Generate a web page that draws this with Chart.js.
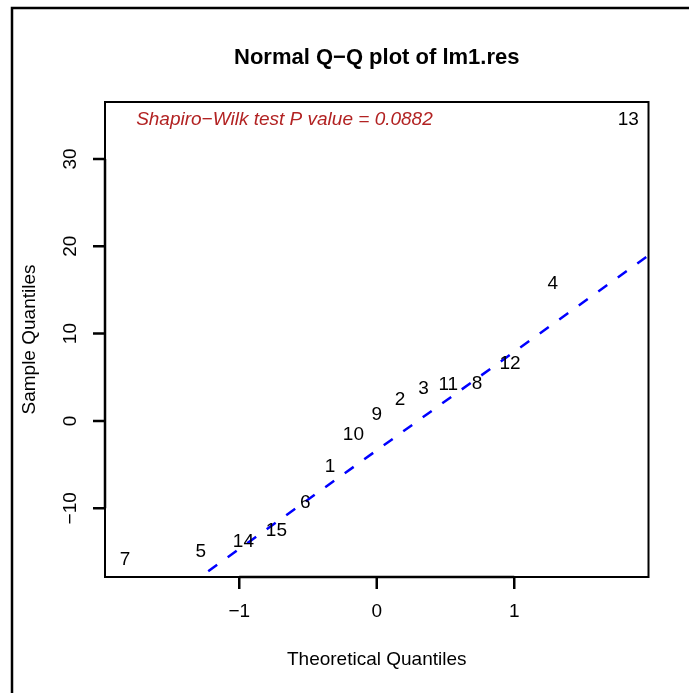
<!DOCTYPE html>
<html>
<head>
<meta charset="utf-8">
<script src="https://cdn.jsdelivr.net/npm/chart.js@4"></script>
<style>
  html, body { margin: 0; padding: 0; background: #fff; }
  #wrap { width: 689px; height: 693px; }
</style>
</head>
<body>
<div id="wrap"><canvas id="qqChart" width="689" height="693"></canvas></div>
<script>
// observation numbers, in sorted order of the residuals
const pointLabels = ['7', '5', '14', '15', '6', '1', '10', '9', '2', '3', '11', '8', '12', '4', '13'];
// theoretical normal quantiles (x) and sorted residuals (y)
const theoreticalQ = [-1.83, -1.28, -0.97, -0.73, -0.52, -0.34, -0.17, 0, 0.17, 0.34, 0.52, 0.73, 0.97, 1.28, 1.83];
const sampleQ = [-15.85, -15.0, -13.8, -12.6, -9.35, -5.2, -1.55, 0.75, 2.45, 3.7, 4.2, 4.3, 6.6, 15.65, 34.5];
const xTicks = [-1, 0, 1];
const yTicks = [-10, 0, 10, 20, 30];
const pValueText = 'Shapiro\u2212Wilk test P value = 0.0882';

// R-style axis limits: data range plus 4%
function rRange(v) {
  const lo = Math.min(...v), hi = Math.max(...v), pad = (hi - lo) * 0.04;
  return [lo - pad, hi + pad];
}
const xLim = rRange(theoreticalQ);
const yLim = rRange(sampleQ);

// qqline: through the 1st and 3rd quartiles
function quant(sorted, p) {
  const h = (sorted.length - 1) * p, lo = Math.floor(h);
  return sorted[lo] + (h - lo) * (sorted[lo + 1] - sorted[lo]);
}
const q1 = quant(sampleQ, 0.25), q3 = quant(sampleQ, 0.75);
const slope = (q3 - q1) / (2 * 0.6744898);
const intercept = q1 + 0.6744898 * slope;

const FONT = '"Liberation Sans", Arial, Helvetica, sans-serif';
const minus = s => String(s).replace('-', '\u2212');

const rDecor = {
  id: 'rDecor',
  afterDraw(chart) {
    const c = chart.ctx, a = chart.chartArea;
    const xs = chart.scales.x, ys = chart.scales.y;
    c.save();

    // outer figure frame
    c.strokeStyle = '#000';
    c.lineWidth = 2.5;
    c.strokeRect(12, 8, 700, 700);

    // plot box
    c.lineWidth = 2;
    c.strokeRect(a.left, a.top, a.right - a.left, a.bottom - a.top);

    // point labels
    c.fillStyle = '#000';
    c.font = '19px ' + FONT;
    c.textAlign = 'center';
    c.textBaseline = 'middle';
    chart.getDatasetMeta(0).data.forEach((el, i) => {
      c.fillText(pointLabels[i], el.x, el.y);
    });

    // x axis
    c.lineWidth = 2.5;
    c.beginPath();
    c.moveTo(xs.getPixelForValue(xTicks[0]), a.bottom);
    c.lineTo(xs.getPixelForValue(xTicks[xTicks.length - 1]), a.bottom);
    xTicks.forEach(t => {
      const px = xs.getPixelForValue(t);
      c.moveTo(px, a.bottom);
      c.lineTo(px, a.bottom + 12);
    });
    c.stroke();
    xTicks.forEach(t => c.fillText(minus(t), xs.getPixelForValue(t), a.bottom + 35));

    // y axis
    c.beginPath();
    c.moveTo(a.left, ys.getPixelForValue(yTicks[0]));
    c.lineTo(a.left, ys.getPixelForValue(yTicks[yTicks.length - 1]));
    yTicks.forEach(t => {
      const py = ys.getPixelForValue(t);
      c.moveTo(a.left, py);
      c.lineTo(a.left - 12, py);
    });
    c.stroke();
    yTicks.forEach(t => {
      c.save();
      c.translate(a.left - 34, ys.getPixelForValue(t));
      c.rotate(-Math.PI / 2);
      c.fillText(minus(t), 0, 0);
      c.restore();
    });

    // axis titles
    const cx = (a.left + a.right) / 2, cy = (a.top + a.bottom) / 2;
    c.fillText('Theoretical Quantiles', cx, 660);
    c.save();
    c.translate(30, cy);
    c.rotate(-Math.PI / 2);
    c.fillText('Sample Quantiles', 0, 0);
    c.restore();

    // main title
    c.font = 'bold 22px ' + FONT;
    c.fillText('Normal Q\u2212Q plot of lm1.res', cx, 58);

    // test annotation
    c.font = 'italic 19px ' + FONT;
    c.fillStyle = '#B22222';
    c.textAlign = 'left';
    c.fillText(pValueText, xs.getPixelForValue(-1.75), ys.getPixelForValue(Math.max(...sampleQ)));

    c.restore();
  }
};

const ctx = document.getElementById('qqChart').getContext('2d');

new Chart(ctx, {
  type: 'scatter',
  data: {
    datasets: [{
      label: 'residuals',
      data: theoreticalQ.map((x, i) => ({ x: x, y: sampleQ[i] })),
      pointRadius: 0,
      pointHoverRadius: 0
    }, {
      type: 'line',
      label: 'qqline',
      data: xLim.map(x => ({ x: x, y: intercept + slope * x })),
      borderColor: '#0000FF',
      borderWidth: 2.5,
      borderDash: [11, 13],
      borderDashOffset: 17,
      pointRadius: 0,
      fill: false
    }]
  },
  options: {
    responsive: false,
    animation: false,
    events: [],
    layout: { padding: { left: 105, top: 102, right: 40.5, bottom: 116 } },
    scales: {
      x: { type: 'linear', display: false, min: xLim[0], max: xLim[1] },
      y: { type: 'linear', display: false, min: yLim[0], max: yLim[1] }
    },
    plugins: {
      legend: { display: false },
      tooltip: { enabled: false },
      title: { display: false }
    }
  },
  plugins: [rDecor]
});
</script>
</body>
</html>
